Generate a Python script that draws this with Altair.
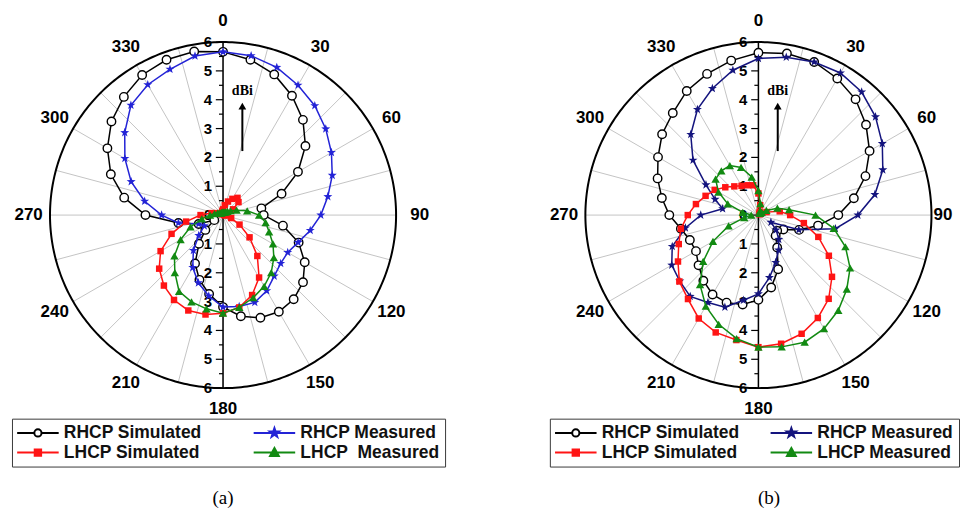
import altair as alt
import pandas as pd

# ---------------- data (gain in dBi, every 10 degrees, 0..350) ----------------
ANGLES = list(range(0, 360, 10))

A_RHCP_SIM = [5.66, 5.47, 5.19, 4.78, 4.31, 3.73, 3.00, 2.16, 1.35, 1.41, 2.11, 2.79,
              3.27, 3.62, 3.81, 3.87, 3.79, 3.56, 3.19, 2.78, 2.39, 1.94, 1.30, 0.80,
              0.35, 0.90, 1.57, 2.69, 3.48, 4.14, 4.63, 5.05, 5.35, 5.61, 5.73, 5.76]
A_RHCP_MEAS = [5.66, 5.61, 5.45, 5.20, 4.95, 4.65, 4.34, 4.03, 3.69, 3.39, 3.07, 2.77,
               2.59, 2.61, 2.76, 3.03, 3.22, 3.22, 3.19, 2.85, 2.50, 2.10, 1.60, 1.10,
               0.75, 0.90, 1.57, 2.13, 2.76, 3.39, 3.93, 4.45, 4.97, 5.22, 5.38, 5.60]
A_LHCP_SIM = [0.20, 0.35, 0.50, 0.65, 0.78, 0.70, 0.40, 0.15, 0.05, 0.05, 0.10, 0.30,
              0.66, 1.20, 1.85, 2.50, 2.95, 3.25, 3.40, 3.50, 3.52, 3.40, 3.19, 2.89,
              2.50, 1.90, 1.30, 0.78, 0.40, 0.20, 0.10, 0.05, 0.05, 0.05, 0.10, 0.15]
A_LHCP_MEAS = [0.10, 0.10, 0.10, 0.12, 0.15, 0.20, 0.30, 0.50, 0.85, 1.25, 1.50, 1.70,
               2.00, 2.30, 2.60, 2.85, 3.05, 3.25, 3.40, 3.30, 3.20, 3.05, 2.60, 2.20,
               1.70, 1.20, 0.75, 0.45, 0.30, 0.20, 0.15, 0.10, 0.10, 0.10, 0.10, 0.10]

B_RHCP_SIM = [5.63, 5.69, 5.65, 5.47, 5.24, 4.87, 4.45, 3.95, 3.36, 2.77, 2.10, 1.50,
              1.00, 0.85, 0.93, 1.30, 2.00, 2.55, 2.94, 3.15, 3.23, 3.18, 2.97, 2.71,
              2.50, 2.53, 2.73, 3.09, 3.40, 3.72, 4.02, 4.36, 4.62, 4.97, 5.21, 5.44]
B_RHCP_MEAS = [5.43, 5.56, 5.65, 5.69, 5.57, 5.30, 4.96, 4.59, 4.10, 3.45, 2.71, 1.49,
               0.50, 0.80, 1.10, 1.40, 1.75, 2.20, 2.73, 3.00, 3.40, 3.50, 3.68, 3.56,
               3.47, 3.18, 2.57, 2.00, 1.26, 1.60, 2.10, 2.96, 3.65, 4.23, 4.67, 5.10]
B_LHCP_SIM = [0.75, 0.35, 0.12, 0.05, 0.05, 0.05, 0.10, 0.30, 0.75, 1.10, 1.60, 2.21,
              2.82, 3.33, 3.79, 4.12, 4.38, 4.53, 4.58, 4.40, 4.33, 4.14, 3.80, 3.58,
              3.22, 2.94, 2.73, 2.45, 2.20, 1.95, 1.75, 1.50, 1.30, 1.17, 1.10, 1.05]
B_LHCP_MEAS = [0.85, 0.40, 0.15, 0.08, 0.08, 0.15, 0.32, 0.70, 1.08, 1.98, 2.65, 3.21,
               3.67, 4.00, 4.31, 4.55, 4.69, 4.64, 4.58, 4.35, 4.03, 3.65, 3.15, 2.50,
               1.82, 1.10, 0.50, 0.25, 0.55, 1.13, 1.60, 1.94, 2.00, 1.98, 1.76, 1.34]

# series order: RHCP Simulated, RHCP Measured, LHCP Simulated, LHCP Measured
A_LABELS = ["RHCP Simulated", "RHCP Measured", "LHCP Simulated", "LHCP\u00a0 Measured"]
B_LABELS = ["RHCP Simulated", "RHCP Measured", "LHCP Simulated", "LHCP Measured"]
A_COLORS = ["#000000", "#2323d6", "#ff1414", "#128a12"]
B_COLORS = ["#000000", "#14147e", "#ff1414", "#128a12"]
LEGEND_ORDER = [0, 2, 1, 3]  # legend fills columns first

ANGLE_TICKS = list(range(0, 360, 30))
SPOKE_ANGLES = list(range(0, 360, 15))
R_MAX = 6
PANEL_TAGS = ["(a)", "(b)"]

# ---------------- styling ----------------
PX_PER_UNIT = 28.9
PANEL_W, PANEL_H = 480, 511
CENTER_Y = 215
SANS = "Liberation Sans"
SERIF = "Liberation Serif"

STAR = ("M0,-1L0.235,-0.324L0.951,-0.309L0.38,0.124L0.588,0.809L0,0.4"
        "L-0.588,0.809L-0.38,0.124L-0.951,-0.309L-0.235,-0.324Z")
MARKERS = [("circle", 72), (STAR, 90), ("square", 42), ("triangle-up", 70)]
LEG_SHAPES = [
    "M-2.6,0L-0.45,0M0.45,0L2.6,0M0.45,0A0.45,0.45,0,1,1,-0.45,0A0.45,0.45,0,1,1,0.45,0Z",
    "M-2.6,0L2.6,0M0,-0.6L0.141,-0.194L0.571,-0.185L0.228,0.074L0.353,0.485L0,0.24"
    "L-0.353,0.485L-0.228,0.074L-0.571,-0.185L-0.141,-0.194Z",
    "M-2.6,0L2.6,0M-0.4,-0.4L0.4,-0.4L0.4,0.4L-0.4,0.4Z",
    "M-2.6,0L2.6,0M0,-0.58L0.55,0.42L-0.55,0.42Z",
]

POLAR_X = "datum.r * sin(datum.angle * PI / 180)"
POLAR_Y = "datum.r * cos(datum.angle * PI / 180)"


def panel(series, labels, colors, center_x, legend_x, col_pad, tag, tag_dx, r90):
    xs = alt.Scale(domain=[-center_x / PX_PER_UNIT, (PANEL_W - center_x) / PX_PER_UNIT],
                   nice=False, zero=False)
    ys = alt.Scale(domain=[-(PANEL_H - CENTER_Y) / PX_PER_UNIT, CENTER_Y / PX_PER_UNIT],
                   nice=False, zero=False)
    X = lambda f: alt.X(f, type="quantitative", scale=xs, axis=None)
    Y = lambda f: alt.Y(f, type="quantitative", scale=ys, axis=None)

    layers = []
    # spokes every 15 degrees
    spokes = (alt.Chart(pd.DataFrame({"angle": SPOKE_ANGLES}))
              .transform_calculate(r=str(R_MAX), zero="0", ex=POLAR_X, ey=POLAR_Y)
              .mark_rule(color="#c4c4c4", strokeWidth=1)
              .encode(x=X("zero"), y=Y("zero"), x2="ex:Q", y2="ey:Q"))
    layers.append(spokes)
    # outer circle
    circle = (alt.Chart(alt.sequence(0, 361, 1, as_="angle"))
              .transform_calculate(r=str(R_MAX), cx=POLAR_X, cy=POLAR_Y)
              .mark_line(color="black", strokeWidth=2)
              .encode(x=X("cx"), y=Y("cy"), order="angle:Q"))
    layers.append(circle)
    # radial axis line
    axis_line = (alt.Chart(pd.DataFrame({"lo": [-R_MAX], "hi": [R_MAX]}))
                 .transform_calculate(zero="0")
                 .mark_rule(color="black", strokeWidth=1.5)
                 .encode(x=X("zero"), y=Y("lo"), y2="hi:Q"))
    layers.append(axis_line)
    ticks = (alt.Chart(alt.sequence(-R_MAX, R_MAX + 0.25, 0.5, as_="v"))
             .transform_calculate(zero="0", tl="(datum.v % 1 == 0) ? -0.25 : -0.14")
             .mark_rule(color="black", strokeWidth=1.2)
             .encode(x=X("zero"), x2="tl:Q", y=Y("v")))
    layers.append(ticks)
    tick_labels = (alt.Chart(alt.sequence(-R_MAX, R_MAX + 1, 1, as_="v"))
                   .transform_calculate(zero="0", lab="format(abs(datum.v), 'd')")
                   .mark_text(align="right", baseline="middle", dx=-11, font=SANS,
                              fontSize=15, fontWeight="bold", color="black")
                   .encode(x=X("zero"), y=Y("v"), text="lab:N"))
    layers.append(tick_labels)
    # angle labels
    ang_labels = (alt.Chart(pd.DataFrame({"angle": ANGLE_TICKS}))
                  .transform_calculate(r=f"datum.angle == 90 ? {r90} : 6.74",
                                       lab="format(datum.angle, 'd')")
                  .transform_calculate(tx=POLAR_X, ty=POLAR_Y)
                  .mark_text(align="center", baseline="middle", font=SANS, fontSize=17,
                             fontWeight="bold", color="black")
                  .encode(x=X("tx"), y=Y("ty"), text="lab:N"))
    layers.append(ang_labels)
    # dBi annotation with arrow
    ann = pd.DataFrame({"x": [0.67], "y0": [2.22], "y1": [3.72], "ty": [4.3], "tip": [3.78]})
    layers.append(alt.Chart(ann).mark_rule(color="black", strokeWidth=2)
                  .encode(x=X("x"), y=Y("y0"), y2="y1:Q"))
    layers.append(alt.Chart(ann).mark_point(shape="triangle-up", size=60, filled=True,
                                            color="black", opacity=1)
                  .encode(x=X("x"), y=Y("tip")))
    layers.append(alt.Chart(ann).mark_text(text="dBi", font=SERIF, fontSize=14,
                                           fontWeight="bold", color="black")
                  .encode(x=X("x"), y=Y("ty")))
    # data curves
    for vals, color, (shape, size) in zip(series, colors, MARKERS):
        df = pd.DataFrame({"angle": ANGLES + [360], "r": vals + [vals[0]]})
        base = alt.Chart(df).transform_calculate(px=POLAR_X, py=POLAR_Y)
        layers.append(base.mark_line(color=color, strokeWidth=1.5)
                      .encode(x=X("px"), y=Y("py"), order="angle:Q"))
        filled = shape != "circle"
        layers.append(base.transform_filter("datum.angle < 360")
                      .mark_point(shape=shape, size=size, filled=filled,
                                  fill=color if filled else "white", color=color,
                                  strokeWidth=1.4, opacity=1)
                      .encode(x=X("px"), y=Y("py")))
    # panel tag
    layers.append(alt.Chart(pd.DataFrame({"t": [tag], "x": [tag_dx], "y": [-9.8]}))
                  .mark_text(font=SERIF, fontSize=19, color="black", baseline="middle")
                  .encode(x=X("x"), y=Y("y"), text="t:N"))
    # legend (symbols only, no marks drawn)
    dom = [labels[i] for i in LEGEND_ORDER]
    strokes = [colors[i] for i in LEGEND_ORDER]
    fills = [("white" if i == 0 else colors[i]) for i in LEGEND_ORDER]
    shapes = [LEG_SHAPES[i] for i in LEGEND_ORDER]
    leg = alt.Legend(title=None, orient="none", legendX=legend_x, legendY=419, columns=2,
                     columnPadding=col_pad, rowPadding=2, padding=5,
                     strokeColor="#3a3a3a", fillColor="white",
                     labelFont=SANS, labelFontSize=17.5, labelFontWeight="bold",
                     labelColor="#111111", labelLimit=400, labelOffset=17,
                     symbolSize=256, symbolOffset=12, symbolStrokeWidth=2,
                     symbolOpacity=1)
    legend_layer = (alt.Chart(pd.DataFrame({"series": labels}))
                    .transform_filter("false")
                    .mark_point(filled=True, opacity=1)
                    .encode(stroke=alt.Stroke("series:N", scale=alt.Scale(domain=dom, range=strokes), legend=leg),
                            fill=alt.Fill("series:N", scale=alt.Scale(domain=dom, range=fills), legend=leg),
                            shape=alt.Shape("series:N", scale=alt.Scale(domain=dom, range=shapes), legend=leg)))
    layers.append(legend_layer)
    return alt.layer(*layers).properties(width=PANEL_W, height=PANEL_H)


panel_a = panel([A_RHCP_SIM, A_RHCP_MEAS, A_LHCP_SIM, A_LHCP_MEAS], A_LABELS, A_COLORS,
                center_x=223.5, legend_x=12, col_pad=47, tag=PANEL_TAGS[0], tag_dx=0,
                r90=6.82)
panel_b = panel([B_RHCP_SIM, B_RHCP_MEAS, B_LHCP_SIM, B_LHCP_MEAS], B_LABELS, B_COLORS,
                center_x=280, legend_x=71, col_pad=26, tag=PANEL_TAGS[1], tag_dx=0.37,
                r90=6.4)

chart = (alt.hconcat(panel_a, panel_b, spacing=0)
         .resolve_scale(stroke="independent", fill="independent", shape="independent")
         .resolve_legend(stroke="independent", fill="independent", shape="independent")
         .properties(padding=0, bounds="flush", background="white")
         .configure_view(stroke=None))

chart.save("out.html", embed_options={"renderer": "svg", "actions": False})
